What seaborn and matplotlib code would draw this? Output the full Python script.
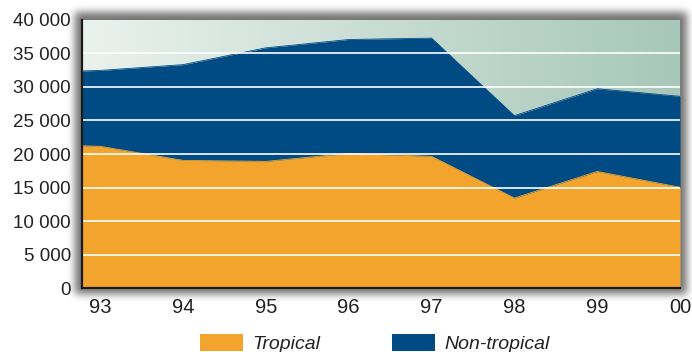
import numpy as np
import pandas as pd
import matplotlib
matplotlib.use("Agg")
import matplotlib.pyplot as plt
from matplotlib.patches import Patch
import seaborn as sns

# Trade volume by product group (stacked)
years = [92.78, 93, 94, 95, 96, 97, 98, 99, 100]
tropical = [21230, 21150, 19060, 18910, 20100, 19660, 13450, 17410, 15060]
non_tropical = [11140, 11300, 14250, 16900, 16950, 17600, 12260, 12310, 13530]
tick_years = [93, 94, 95, 96, 97, 98, 99, 100]
tick_labels = ["93", "94", "95", "96", "97", "98", "99", "00"]
y_ticks = [0, 5000, 10000, 15000, 20000, 25000, 30000, 35000, 40000]
series_names = ["Tropical", "Non-tropical"]

ORANGE = "#F2A42C"
BLUE = "#004B84"

sns.set_style("white")
plt.rcParams["font.family"] = ["Liberation Sans", "DejaVu Sans"]

df = pd.DataFrame({"year": years, "Tropical": tropical, "Non-tropical": non_tropical})
df["total"] = df["Tropical"] + df["Non-tropical"]

W, H = 692, 352
fig = plt.figure(figsize=(W / 100, H / 100), dpi=100)

# soft drop shadow behind the plotting panel
def blur1d(a, sigma, axis):
    r = int(3 * sigma)
    k = np.exp(-0.5 * (np.arange(-r, r + 1) / sigma) ** 2)
    k /= k.sum()
    return np.apply_along_axis(lambda v: np.convolve(v, k, mode="same"), axis, a)

mask = np.zeros((H, W))
mask[12:294, 75:687] = 1.0
mask = blur1d(blur1d(mask, 4.0, 0), 4.0, 1)
shadow = np.zeros((H, W, 4))
shadow[..., 3] = mask * 0.55
fig.figimage(shadow, xo=0, yo=0, zorder=-5, origin="upper")

left, right = 82 / W, 680 / W
bottom, top = (H - 288.4) / H, (H - 19.7) / H
ax = fig.add_axes([left, bottom, right - left, top - bottom])
ax.patch.set_visible(False)

x0, x1 = years[0], tick_years[-1]
# horizontal gradient background
grad = np.linspace(0, 1, 256)[None, :, None]
c_left = np.array([234, 242, 238]) / 255
c_right = np.array([167, 199, 186]) / 255
bg = c_left + (c_right - c_left) * grad
ax.imshow(bg, extent=[x0, x1, 0, 40000], aspect="auto", zorder=0, interpolation="bilinear")

ax.stackplot(df["year"], df["Tropical"], df["Non-tropical"],
             colors=[ORANGE, BLUE], linewidth=0, zorder=1, antialiased=True)
sns.lineplot(x=df["year"], y=df["Tropical"], color=ORANGE, lw=0.6, ax=ax, zorder=1.1)
sns.lineplot(x=df["year"], y=df["total"], color=BLUE, lw=0.6, ax=ax, zorder=1.1)

ax.set_xlim(x0, x1)
ax.set_ylim(0, 40000)

for v in y_ticks[1:-1]:
    ax.axhline(v, color="white", lw=1.2, zorder=2)

ax.set_yticks(y_ticks)
ax.set_yticklabels([f"{v:,}".replace(",", " ") for v in y_ticks])
ax.set_xticks(tick_years)
ax.set_xticklabels(tick_labels)
ax.set_xlabel("")
ax.set_ylabel("")

ax.tick_params(axis="y", length=0, pad=8, labelsize=13.5, labelcolor="#222222")
ax.tick_params(axis="x", direction="in", length=4.5, width=1.6, color="#1a1a1a",
               pad=7, labelsize=14.5, labelcolor="#222222")
for t in ax.get_xticklines():
    t.set_zorder(5)

for s in ["top", "right"]:
    ax.spines[s].set_visible(False)
for s in ["left", "bottom"]:
    ax.spines[s].set_color("#1a1a1a")
    ax.spines[s].set_linewidth(1.6)
    ax.spines[s].set_zorder(6)

handles = [Patch(facecolor=ORANGE, edgecolor="none"), Patch(facecolor=BLUE, edgecolor="none")]
fig.legend(handles, series_names, loc="center", bbox_to_anchor=(0.542, 0.024),
           ncol=2, frameon=False, handlelength=2.2, handleheight=0.95,
           handletextpad=0.5, columnspacing=3.7, borderpad=0,
           prop={"style": "italic", "size": 14}, labelcolor="#222222")

fig.savefig("out.png", dpi=100)
